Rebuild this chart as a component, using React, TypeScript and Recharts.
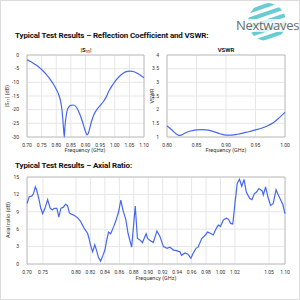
import React from 'react';
import { LineChart, Line, XAxis, YAxis, CartesianGrid, ReferenceArea } from 'recharts';

// |S11| (dB) vs frequency (GHz)
const S11_FREQ = [0.70, 0.71, 0.72, 0.73, 0.74, 0.75, 0.76, 0.77, 0.78, 0.79, 0.80, 0.81, 0.815, 0.82, 0.825, 0.8275, 0.83, 0.835, 0.84, 0.85, 0.86, 0.87, 0.88, 0.89, 0.90, 0.905, 0.91, 0.92, 0.93, 0.94, 0.95, 0.96, 0.97, 0.98, 0.99, 1.00, 1.01, 1.02, 1.03, 1.04, 1.05, 1.06, 1.07, 1.08, 1.09, 1.10];
const S11_DB = [-1.8, -2.3, -2.9, -3.6, -4.4, -5.3, -6.4, -7.6, -9.0, -10.6, -12.5, -15.0, -17.0, -20.5, -27.0, -30.0, -26.0, -21.5, -19.5, -18.4, -18.3, -19.3, -21.5, -24.5, -28.0, -29.2, -28.5, -24.5, -21.5, -19.8, -18.5, -17.2, -15.5, -13.2, -11.4, -9.8, -8.5, -7.4, -6.6, -6.1, -5.9, -6.0, -6.3, -6.9, -7.6, -8.3];
const S11_X_TICKS = [0.70, 0.75, 0.80, 0.85, 0.90, 0.95, 1.00, 1.05, 1.10];
const S11_Y_TICKS = [0, -5, -10, -15, -20, -25, -30];

// VSWR vs frequency (GHz)
const VSWR_FREQ = [0.80, 0.805, 0.81, 0.815, 0.82, 0.825, 0.83, 0.84, 0.85, 0.86, 0.87, 0.88, 0.89, 0.90, 0.91, 0.92, 0.93, 0.94, 0.95, 0.96, 0.97, 0.98, 0.99, 1.00];
const VSWR_VAL = [1.40, 1.32, 1.22, 1.12, 1.06, 1.08, 1.14, 1.22, 1.26, 1.27, 1.25, 1.19, 1.12, 1.07, 1.07, 1.10, 1.15, 1.20, 1.26, 1.32, 1.40, 1.52, 1.70, 1.90];
const VSWR_X_TICKS = [0.80, 0.85, 0.90, 0.95, 1.00];
const VSWR_Y_TICKS = [1, 1.5, 2, 2.5, 3, 3.5, 4];

// Axial ratio (dB) vs frequency (GHz); the source axis is not linear
const AR_FREQ = [0.700, 0.707, 0.715, 0.720, 0.726, 0.730, 0.738, 0.743, 0.749, 0.753, 0.757, 0.761, 0.764, 0.767, 0.771, 0.774, 0.777, 0.781, 0.784, 0.787, 0.790, 0.793, 0.797, 0.802, 0.806, 0.809, 0.812, 0.816, 0.818, 0.820, 0.823, 0.826, 0.829, 0.831, 0.834, 0.837, 0.840, 0.842, 0.845, 0.848, 0.852, 0.855, 0.859, 0.862, 0.865, 0.869, 0.872, 0.877, 0.882, 0.885, 0.889, 0.892, 0.897, 0.899, 0.902, 0.907, 0.912, 0.916, 0.921, 0.926, 0.930, 0.935, 0.939, 0.944, 0.946, 0.951, 0.955, 0.959, 0.962, 0.966, 0.969, 0.974, 0.979, 0.982, 0.986, 0.990, 0.994, 0.997, 1.000, 1.004, 1.008, 1.011, 1.014, 1.017, 1.020, 1.022, 1.024, 1.026, 1.028, 1.030, 1.033, 1.035, 1.037, 1.039, 1.041, 1.044, 1.045, 1.047, 1.049, 1.055, 1.063, 1.072, 1.079, 1.087, 1.093, 1.100];
const AR_DB = [10.4, 11.6, 11.7, 12.1, 13.3, 12.8, 11.0, 9.6, 8.7, 9.6, 11.1, 9.6, 9.3, 9.6, 9.6, 8.1, 9.6, 9.8, 10.3, 10.1, 8.8, 8.6, 8.4, 8.0, 7.4, 6.7, 6.0, 5.3, 4.4, 3.3, 2.1, 3.3, 2.1, 1.15, 0.5, 1.4, 2.4, 3.8, 5.5, 5.2, 6.4, 7.4, 9.0, 11.0, 9.3, 7.6, 5.3, 2.9, 10.0, 4.4, 4.1, 3.7, 5.2, 4.4, 4.1, 3.7, 5.7, 4.8, 3.0, 2.7, 2.9, 2.4, 2.3, 2.1, 1.5, 1.9, 1.7, 1.0, 1.8, 2.7, 2.9, 4.4, 5.0, 5.5, 5.3, 5.0, 6.1, 6.7, 6.5, 7.6, 7.9, 7.7, 7.0, 6.9, 10.4, 13.9, 14.6, 13.4, 14.6, 12.4, 11.3, 11.1, 12.1, 12.4, 13.0, 12.6, 11.9, 13.3, 11.6, 10.1, 10.4, 12.8, 11.9, 11.0, 10.3, 8.7];
const AR_X_TICKS = [0.70, 0.75, 0.80, 0.82, 0.84, 0.86, 0.88, 0.90, 0.92, 0.94, 0.96, 0.98, 1.00, 1.02, 1.05, 1.10];
const AR_X_TICK_POS = [0, 0.062, 0.19, 0.246, 0.302, 0.358, 0.414, 0.47, 0.526, 0.582, 0.638, 0.694, 0.75, 0.806, 0.938, 1];
const AR_Y_TICKS = [0, 3, 6, 9, 12, 15];

const BLUE = '#4668f0';
const GRID = '#e6e6e6';
const FRAME = '#b5b5b5';
const FONT = 'Roboto, sans-serif';
const tickStyle = { fontSize: 5, fill: '#333', fontFamily: FONT };

// piecewise-linear frequency -> axis position, through the labelled ticks
function warp(f: number): number {
  for (let i = 0; i < AR_X_TICKS.length - 1; i++) {
    const a = AR_X_TICKS[i], b = AR_X_TICKS[i + 1];
    if (f <= b || i === AR_X_TICKS.length - 2) {
      const t = (f - a) / (b - a);
      return AR_X_TICK_POS[i] + t * (AR_X_TICK_POS[i + 1] - AR_X_TICK_POS[i]);
    }
  }
  return 0;
}

const s11Data = S11_FREQ.map((f, i) => ({ f, v: S11_DB[i] }));
const vswrData = VSWR_FREQ.map((f, i) => ({ f, v: VSWR_VAL[i] }));
const arData = AR_FREQ.map((f, i) => ({ u: warp(f), v: AR_DB[i] }));

const abs = (left: number, top: number): React.CSSProperties => ({ position: 'absolute', left, top });

function AxisText({ x, y, children, rotate }: { x: number; y: number; children: React.ReactNode; rotate?: boolean }) {
  return (
    <div
      style={{
        position: 'absolute',
        left: x,
        top: y,
        transform: `translate(-50%, -50%)${rotate ? ' rotate(-90deg)' : ''}`,
        fontFamily: FONT,
        fontSize: 5.5,
        color: '#333',
        whiteSpace: 'nowrap',
        lineHeight: 1,
      }}
    >
      {children}
    </div>
  );
}

function Sub({ children }: { children: React.ReactNode }) {
  return <span style={{ fontSize: 3.8, position: 'relative', top: 1.2 }}>{children}</span>;
}

function Logo() {
  const stripes = [0, 1, 2, 3, 4, 5, 6];
  return (
    <svg width={70} height={50} style={abs(230, 0)}>
      <defs>
        <clipPath id="logoClip">
          <circle cx={37} cy={22} r={19} />
        </clipPath>
      </defs>
      <g clipPath="url(#logoClip)">
        {stripes.map((s) => (
          <line key={s} x1={0} y1={10 + s * 8} x2={70} y2={-14 + s * 8} stroke="#4fc3cb" strokeWidth={4} opacity={0.85} />
        ))}
      </g>
      <rect x={5} y={19} width={60} height={13} fill="#fff" opacity={0.75} />
      <text x={6} y={30} fontFamily="'Open Sans', sans-serif" fontSize={13} fill="#6b6b6b" letterSpacing={-0.3}>
        Nextwaves
      </text>
    </svg>
  );
}

const titleStyle: React.CSSProperties = {
  fontFamily: FONT,
  fontWeight: 700,
  fontSize: 8,
  letterSpacing: -0.15,
  color: '#111',
  whiteSpace: 'nowrap',
  lineHeight: 1,
};

export default function App() {
  return (
    <div style={{ position: 'fixed', left: 0, top: 0, width: 300, height: 300, background: '#fff', overflow: 'hidden' }}>
      <div style={{ position: 'absolute', left: 0, top: 0, width: 298, height: 298, border: '1px solid #dcdcdc' }} />
      <Logo />

      <div style={{ ...abs(15, 32), ...titleStyle }}>Typical Test Results – Reflection Coefficient and VSWR:</div>

      {/* |S11| */}
      <div style={abs(0, 40)}>
        <LineChart width={150} height={120} data={s11Data} margin={{ top: 15, right: 6, bottom: 11, left: 0 }}>
          <CartesianGrid stroke={GRID} />
          <XAxis dataKey="f" type="number" domain={[0.7, 1.1]} ticks={S11_X_TICKS} tickFormatter={(v) => v.toFixed(2)} tick={tickStyle} tickLine={false} axisLine={false} height={12} tickMargin={0} interval={0} />
          <YAxis type="number" domain={[-30, 0]} ticks={S11_Y_TICKS} tick={tickStyle} tickLine={false} axisLine={false} width={27} tickMargin={2} interval={0} />
          <ReferenceArea x1={0.7} x2={1.1} y1={-30} y2={0} fill="none" stroke={FRAME} strokeWidth={0.8} />
          <Line dataKey="v" type="monotone" stroke={BLUE} strokeWidth={1.2} dot={false} isAnimationActive={false} />
        </LineChart>
      </div>
      <div style={{ ...abs(86, 47), transform: 'translateX(-50%)', fontFamily: FONT, fontWeight: 700, fontSize: 6, color: '#222', whiteSpace: 'nowrap', lineHeight: 1 }}>
        |S<Sub>11</Sub>|
      </div>
      <AxisText x={85} y={151}>Frequency (GHz)</AxisText>
      <AxisText x={8} y={96} rotate>
        |S<Sub>11</Sub>| (dB)
      </AxisText>

      {/* VSWR */}
      <div style={abs(150, 40)}>
        <LineChart width={150} height={120} data={vswrData} margin={{ top: 15, right: 15, bottom: 11, left: 0 }}>
          <CartesianGrid stroke={GRID} />
          <XAxis dataKey="f" type="number" domain={[0.8, 1.0]} ticks={VSWR_X_TICKS} tickFormatter={(v) => v.toFixed(2)} tick={tickStyle} tickLine={false} axisLine={false} height={12} tickMargin={0} interval={0} />
          <YAxis type="number" domain={[1, 4]} ticks={VSWR_Y_TICKS} tick={tickStyle} tickLine={false} axisLine={false} width={17} tickMargin={2} interval={0} />
          <ReferenceArea x1={0.8} x2={1.0} y1={1} y2={4} fill="none" stroke={FRAME} strokeWidth={0.8} />
          <Line dataKey="v" type="monotone" stroke={BLUE} strokeWidth={1.2} dot={false} isAnimationActive={false} />
        </LineChart>
      </div>
      <div style={{ ...abs(226, 47), transform: 'translateX(-50%)', fontFamily: FONT, fontWeight: 700, fontSize: 6, color: '#222', lineHeight: 1 }}>
        VSWR
      </div>
      <AxisText x={226} y={151}>Frequency (GHz)</AxisText>
      <AxisText x={153} y={96} rotate>VSWR</AxisText>

      <div style={{ ...abs(15, 162), ...titleStyle }}>Typical Test Results – Axial Ratio:</div>

      {/* Axial ratio */}
      <div style={abs(0, 160)}>
        <LineChart width={300} height={125} data={arData} margin={{ top: 17, right: 15, bottom: 9, left: 0 }}>
          <CartesianGrid stroke={GRID} />
          <XAxis
            dataKey="u"
            type="number"
            domain={[0, 1]}
            ticks={AR_X_TICK_POS}
            tickFormatter={(v) => {
              const i = AR_X_TICK_POS.indexOf(v);
              return i >= 0 ? AR_X_TICKS[i].toFixed(2) : '';
            }}
            tick={tickStyle}
            tickLine={false}
            axisLine={false}
            height={12}
            tickMargin={0}
            interval={0}
          />
          <YAxis type="number" domain={[0, 15]} ticks={AR_Y_TICKS} tick={tickStyle} tickLine={false} axisLine={false} width={27} tickMargin={2} interval={0} />
          <ReferenceArea x1={0} x2={1} y1={0} y2={15} fill="none" stroke={FRAME} strokeWidth={0.8} />
          <Line dataKey="v" type="linear" stroke={BLUE} strokeWidth={1.2} dot={false} isAnimationActive={false} />
        </LineChart>
      </div>
      <AxisText x={156} y={279}>Frequency (GHz)</AxisText>
      <AxisText x={9} y={220} rotate>Axial ratio (dB)</AxisText>
    </div>
  );
}
